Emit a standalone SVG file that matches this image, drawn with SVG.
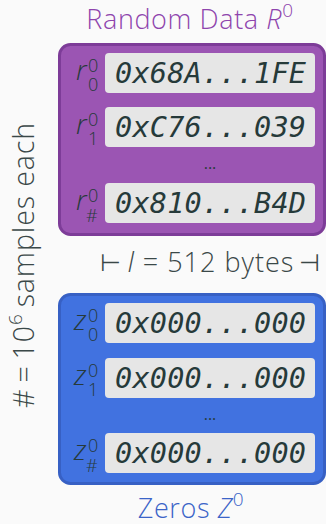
<svg xmlns="http://www.w3.org/2000/svg" width="326" height="524" viewBox="0 0 326 524">
  <style>
    .sans { font-family: "Open Sans", "Liberation Sans", sans-serif; font-weight: 300; }
    .title { font-size: 27px; letter-spacing: 0.6px; text-anchor: middle; }
    .hex { font-family: "DejaVu Sans Mono", "Liberation Mono", monospace; font-style: italic; font-size: 28.5px; fill: #263a3a; }
    .lbl { font-family: "Open Sans", "Liberation Sans", sans-serif; font-weight: 300; fill: #263a3a; }
    .var { font-size: 28px; font-style: italic; }
    .idx { font-size: 18px; }
    .row { fill: #e6e6e6; }
    .dots { font-family: "Open Sans", sans-serif; font-size: 16px; fill: #263a3a; text-anchor: middle; }
    .sym { font-family: "DejaVu Sans", sans-serif; font-size: 24px; fill: #3a4848; }
  </style>
  <rect width="326" height="524" fill="#fafafa"/>

  <!-- count of samples -->
  <text class="sans" font-size="28.5" letter-spacing="0.9" fill="#3a4848" text-anchor="middle" transform="translate(34,265) rotate(-90)">#<tspan dx="6">=</tspan><tspan dx="6">10</tspan><tspan dy="-12" font-size="19">6</tspan><tspan dy="12" dx="6">samples each</tspan></text>

  <!-- random data block -->
  <g id="random">
    <text class="sans title" x="190" y="29" fill="#8e44ad">Random Data <tspan font-style="italic">R</tspan><tspan font-size="19" dy="-12">0</tspan></text>
    <rect x="59.5" y="44.5" width="265" height="190" rx="11" fill="#9b55b3" stroke="#7d3c98" stroke-width="3"/>
    <rect class="row" x="105" y="53" width="210" height="40" rx="4"/>
    <rect class="row" x="105" y="107" width="210" height="40" rx="4"/>
    <rect class="row" x="105" y="183" width="210" height="40" rx="4"/>
    <text class="hex" x="115" y="83" textLength="191">0x68A...1FE</text>
    <text class="hex" x="115" y="137" textLength="191">0xC76...039</text>
    <text class="hex" x="115" y="213" textLength="191">0x810...B4D</text>
    <text class="dots" x="210" y="169">...</text>
    <text class="lbl var" x="76" y="80">r</text>
    <text class="lbl idx" x="88" y="72">0</text>
    <text class="lbl idx" x="88" y="91">0</text>
    <text class="lbl var" x="76" y="134">r</text>
    <text class="lbl idx" x="88" y="126">0</text>
    <text class="lbl idx" x="88" y="145">1</text>
    <text class="lbl var" x="76" y="210">r</text>
    <text class="lbl idx" x="88" y="202">0</text>
    <text class="lbl idx" x="86" y="222">#</text>
  </g>

  <!-- length dimension -->
  <g id="length">
    <text class="sym" x="100" y="271">⊢</text>
    <text class="sans" x="211" y="272" font-size="27" letter-spacing="1" fill="#3a4848" text-anchor="middle"><tspan font-style="italic">l</tspan> = 512 bytes</text>
    <text class="sym" x="320" y="271" text-anchor="end">⊣</text>
  </g>

  <!-- zeros block -->
  <g id="zeros">
    <rect x="59.5" y="294.5" width="265" height="189" rx="11" fill="#4172e0" stroke="#3760c4" stroke-width="3"/>
    <rect class="row" x="105" y="303" width="210" height="40" rx="4"/>
    <rect class="row" x="105" y="358" width="210" height="40" rx="4"/>
    <rect class="row" x="105" y="433" width="210" height="40" rx="4"/>
    <text class="hex" x="115" y="333" textLength="191">0x000...000</text>
    <text class="hex" x="115" y="388" textLength="191">0x000...000</text>
    <text class="hex" x="115" y="463" textLength="191">0x000...000</text>
    <text class="dots" x="210" y="420">...</text>
    <text class="lbl var" x="74" y="330">z</text>
    <text class="lbl idx" x="88" y="322">0</text>
    <text class="lbl idx" x="88" y="341">0</text>
    <text class="lbl var" x="74" y="385">z</text>
    <text class="lbl idx" x="88" y="377">0</text>
    <text class="lbl idx" x="88" y="396">1</text>
    <text class="lbl var" x="74" y="460">z</text>
    <text class="lbl idx" x="88" y="452">0</text>
    <text class="lbl idx" x="86" y="472">#</text>
    <text class="sans title" x="191" y="518" fill="#3b64c8">Zeros <tspan font-style="italic">Z</tspan><tspan font-size="19" dy="-12">0</tspan></text>
  </g>
</svg>
